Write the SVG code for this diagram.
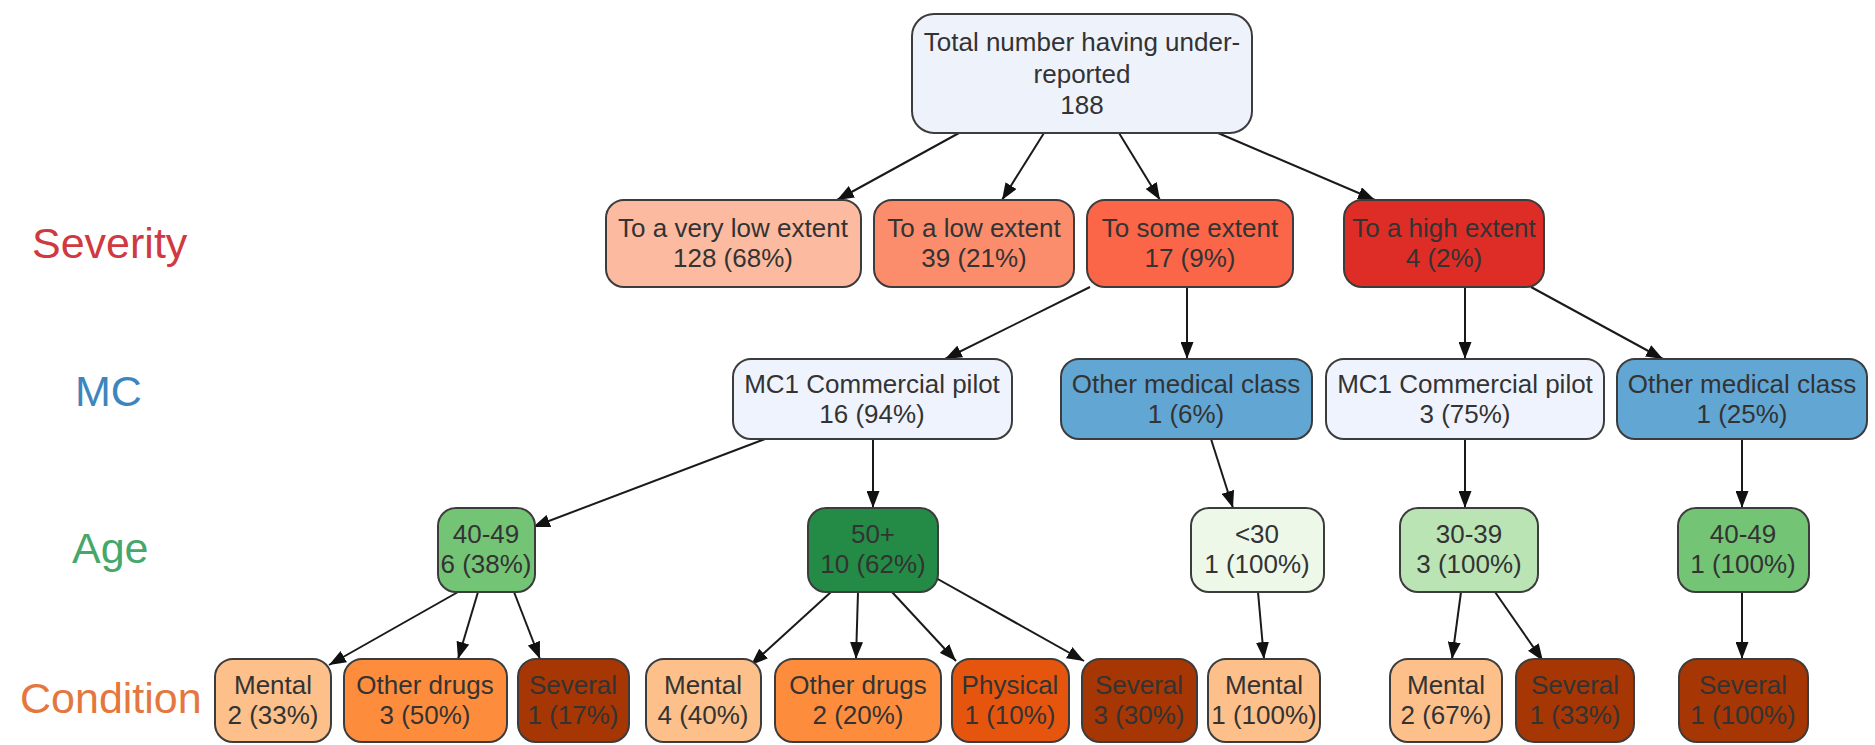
<svg xmlns="http://www.w3.org/2000/svg" width="1875" height="745" viewBox="0 0 1875 745">
<defs>
<style>
.n rect{stroke:#3c3c3c;stroke-width:2}
.t{font-family:"Liberation Sans",Arial,sans-serif;font-size:26px;fill:#333;text-anchor:middle}
.lbl{font-family:"Liberation Sans",Arial,sans-serif;font-size:43px}
#edges line{stroke:#1a1a1a;stroke-width:2;marker-end:url(#ah)}
</style>
<marker id="ah" viewBox="0 0 10 10" preserveAspectRatio="none" refX="10" refY="5" markerWidth="8.5" markerHeight="6.5" markerUnits="strokeWidth" orient="auto">
<path d="M0,0L10,5L0,10z" fill="#111"/>
</marker>
</defs>
<rect width="1875" height="745" fill="#fff"/>
<g id="labels">
<text class="lbl" x="32" y="258" fill="#d0393f">Severity</text>
<text class="lbl" x="75" y="406" fill="#3d86bd">MC</text>
<text class="lbl" x="72" y="563" fill="#45a86a">Age</text>
<text class="lbl" x="20" y="713" fill="#e4773e">Condition</text>
</g>
<g id="edges">
<line x1="959" y1="133" x2="837" y2="200"/>
<line x1="1044" y1="133" x2="1002" y2="200"/>
<line x1="1119" y1="133" x2="1160" y2="200"/>
<line x1="1218" y1="133" x2="1375" y2="200"/>
<line x1="1090" y1="287" x2="945" y2="359"/>
<line x1="1187" y1="287" x2="1187" y2="359"/>
<line x1="1465" y1="287" x2="1465" y2="359"/>
<line x1="1531" y1="287" x2="1663" y2="359"/>
<line x1="765" y1="439" x2="533" y2="527"/>
<line x1="873" y1="439" x2="873" y2="508"/>
<line x1="1211" y1="439" x2="1233" y2="508"/>
<line x1="1465" y1="439" x2="1465" y2="508"/>
<line x1="1742" y1="439" x2="1742" y2="508"/>
<line x1="458" y1="592" x2="329" y2="665"/>
<line x1="478" y1="592" x2="458" y2="659"/>
<line x1="514" y1="592" x2="540" y2="659"/>
<line x1="831" y1="592" x2="751" y2="665"/>
<line x1="858" y1="592" x2="856" y2="659"/>
<line x1="892" y1="592" x2="956" y2="661"/>
<line x1="927" y1="573" x2="1084" y2="661"/>
<line x1="1258" y1="592" x2="1264" y2="659"/>
<line x1="1461" y1="592" x2="1452" y2="659"/>
<line x1="1495" y1="592" x2="1543" y2="661"/>
<line x1="1742" y1="592" x2="1742" y2="659"/>
</g>
<g id="root" class="n"><rect x="912" y="14" width="340" height="119" rx="22" fill="#eef2fb"/>
<text class="t" x="1082" y="51">Total number having under-</text><text class="t" x="1082" y="83">reported</text><text class="t" x="1082" y="114">188</text></g>
<g id="sev1" class="n"><rect x="606" y="200" width="255" height="87" rx="18" fill="#fcbba1"/>
<text class="t" x="733" y="237">To a very low extent</text><text class="t" x="733" y="267">128 (68%)</text></g>
<g id="sev2" class="n"><rect x="874" y="200" width="200" height="87" rx="18" fill="#fb8c6c"/>
<text class="t" x="974" y="237">To a low extent</text><text class="t" x="974" y="267">39 (21%)</text></g>
<g id="sev3" class="n"><rect x="1087" y="200" width="206" height="87" rx="18" fill="#fb6548"/>
<text class="t" x="1190" y="237">To some extent</text><text class="t" x="1190" y="267">17 (9%)</text></g>
<g id="sev4" class="n"><rect x="1344" y="200" width="200" height="87" rx="18" fill="#de2d26"/>
<text class="t" x="1444" y="237">To a high extent</text><text class="t" x="1444" y="267">4 (2%)</text></g>
<g id="mc1" class="n"><rect x="733" y="359" width="279" height="80" rx="18" fill="#eff3fd"/>
<text class="t" x="872" y="393">MC1 Commercial pilot</text><text class="t" x="872" y="423">16 (94%)</text></g>
<g id="mc2" class="n"><rect x="1061" y="359" width="251" height="80" rx="18" fill="#62a6d4"/>
<text class="t" x="1186" y="393">Other medical class</text><text class="t" x="1186" y="423">1 (6%)</text></g>
<g id="mc3" class="n"><rect x="1326" y="359" width="278" height="80" rx="18" fill="#eff3fd"/>
<text class="t" x="1465" y="393">MC1 Commercial pilot</text><text class="t" x="1465" y="423">3 (75%)</text></g>
<g id="mc4" class="n"><rect x="1617" y="359" width="250" height="80" rx="18" fill="#62a6d4"/>
<text class="t" x="1742" y="393">Other medical class</text><text class="t" x="1742" y="423">1 (25%)</text></g>
<g id="a1" class="n"><rect x="438" y="508" width="97" height="84" rx="18" fill="#74c476"/>
<text class="t" x="486" y="543">40-49</text><text class="t" x="486" y="573">6 (38%)</text></g>
<g id="a2" class="n"><rect x="808" y="508" width="130" height="84" rx="18" fill="#238b45"/>
<text class="t" x="873" y="543">50+</text><text class="t" x="873" y="573">10 (62%)</text></g>
<g id="a3" class="n"><rect x="1191" y="508" width="133" height="84" rx="18" fill="#edf8e9"/>
<text class="t" x="1257" y="543">&lt;30</text><text class="t" x="1257" y="573">1 (100%)</text></g>
<g id="a4" class="n"><rect x="1400" y="508" width="138" height="84" rx="18" fill="#bae4b3"/>
<text class="t" x="1469" y="543">30-39</text><text class="t" x="1469" y="573">3 (100%)</text></g>
<g id="a5" class="n"><rect x="1678" y="508" width="131" height="84" rx="18" fill="#74c476"/>
<text class="t" x="1743" y="543">40-49</text><text class="t" x="1743" y="573">1 (100%)</text></g>
<g id="c1" class="n"><rect x="215" y="659" width="116" height="83" rx="18" fill="#fdc08a"/>
<text class="t" x="273" y="694">Mental</text><text class="t" x="273" y="724">2 (33%)</text></g>
<g id="c2" class="n"><rect x="344" y="659" width="163" height="83" rx="18" fill="#fd8d3c"/>
<text class="t" x="425" y="694">Other drugs</text><text class="t" x="425" y="724">3 (50%)</text></g>
<g id="c3" class="n"><rect x="518" y="659" width="111" height="83" rx="18" fill="#a63603"/>
<text class="t" x="573" y="694">Several</text><text class="t" x="573" y="724">1 (17%)</text></g>
<g id="c4" class="n"><rect x="646" y="659" width="115" height="83" rx="18" fill="#fdc08a"/>
<text class="t" x="703" y="694">Mental</text><text class="t" x="703" y="724">4 (40%)</text></g>
<g id="c5" class="n"><rect x="775" y="659" width="166" height="83" rx="18" fill="#fd8d3c"/>
<text class="t" x="858" y="694">Other drugs</text><text class="t" x="858" y="724">2 (20%)</text></g>
<g id="c6" class="n"><rect x="952" y="659" width="117" height="83" rx="18" fill="#e6550d"/>
<text class="t" x="1010" y="694">Physical</text><text class="t" x="1010" y="724">1 (10%)</text></g>
<g id="c7" class="n"><rect x="1082" y="659" width="115" height="83" rx="18" fill="#a63603"/>
<text class="t" x="1139" y="694">Several</text><text class="t" x="1139" y="724">3 (30%)</text></g>
<g id="c8" class="n"><rect x="1208" y="659" width="112" height="83" rx="18" fill="#fdc08a"/>
<text class="t" x="1264" y="694">Mental</text><text class="t" x="1264" y="724">1 (100%)</text></g>
<g id="c9" class="n"><rect x="1390" y="659" width="112" height="83" rx="18" fill="#fdc08a"/>
<text class="t" x="1446" y="694">Mental</text><text class="t" x="1446" y="724">2 (67%)</text></g>
<g id="c10" class="n"><rect x="1516" y="659" width="118" height="83" rx="18" fill="#a63603"/>
<text class="t" x="1575" y="694">Several</text><text class="t" x="1575" y="724">1 (33%)</text></g>
<g id="c11" class="n"><rect x="1679" y="659" width="129" height="83" rx="18" fill="#a63603"/>
<text class="t" x="1743" y="694">Several</text><text class="t" x="1743" y="724">1 (100%)</text></g>
</svg>
